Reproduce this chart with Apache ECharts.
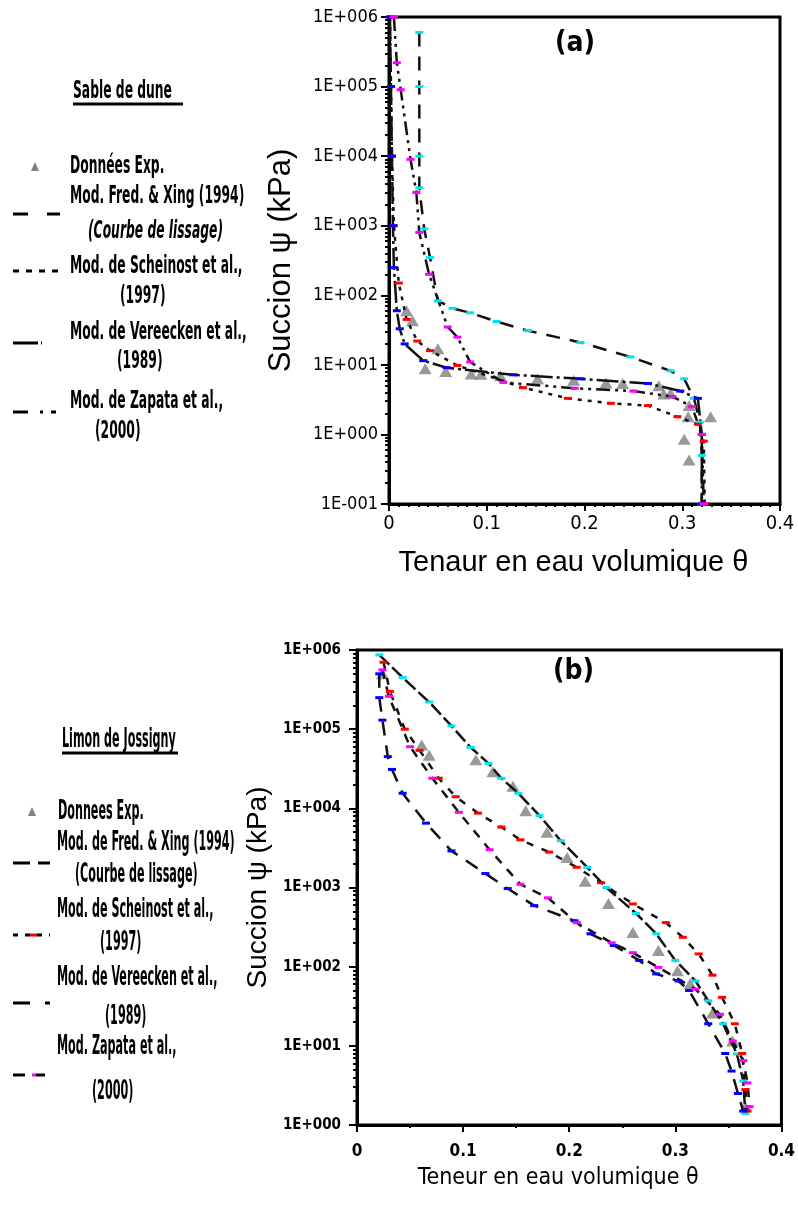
<!DOCTYPE html>
<html>
<head>
<meta charset="utf-8">
<script src="https://cdn.jsdelivr.net/npm/echarts@6/dist/echarts.min.js"></script>
<style>
html, body { margin: 0; padding: 0; background: #fff; }
#chart { width: 798px; height: 1207px; }
</style>
</head>
<body>
<div id="chart"></div>
<script>
// (a) Sable de dune
const expThetaA = [0.018, 0.024, 0.050, 0.037, 0.058, 0.084, 0.094, 0.114, 0.152, 0.189, 0.222, 0.239, 0.276, 0.281, 0.288, 0.307, 0.306, 0.329, 0.302, 0.307]
const expPsiA = [60, 43, 17, 8.8, 8, 7.4, 7.3, 7, 6.3, 6, 5.5, 5.4, 5, 3.8, 3.9, 2.6, 1.8, 1.8, 0.85, 0.43]
const fxThetaA = [0.031, 0.031, 0.031, 0.031, 0.036, 0.042, 0.05, 0.065, 0.083, 0.11, 0.142, 0.196, 0.247, 0.288, 0.302, 0.312, 0.318, 0.32, 0.32]
const fxPsiA = [6e5, 1e5, 1e4, 3500, 900, 350, 83, 65, 56, 42, 31, 21, 13, 8.2, 6.3, 3.3, 1.5, 0.5, 0.1]
const schThetaA = [0.001, 0.002, 0.003, 0.005, 0.01, 0.018, 0.029, 0.042, 0.07, 0.137, 0.183, 0.227, 0.265, 0.295, 0.316, 0.322, 0.323]
const schPsiA = [1e6, 1e5, 1e4, 1e3, 150, 45, 22, 16, 9.8, 4.7, 3.3, 2.8, 2.6, 1.8, 1.4, 0.8, 0.1]
const verThetaA = [0.001, 0.002, 0.003, 0.004, 0.005, 0.008, 0.011, 0.016, 0.035, 0.059, 0.127, 0.196, 0.265, 0.298, 0.316, 0.32, 0.32]
const verPsiA = [1e6, 1e5, 1e4, 1e3, 250, 60, 33, 20, 11.5, 9.1, 7.2, 6.3, 5.4, 4.2, 3.3, 1, 0.1]
const zapThetaA = [0.005, 0.008, 0.012, 0.022, 0.028, 0.031, 0.041, 0.06, 0.07, 0.083, 0.117, 0.19, 0.25, 0.29, 0.31, 0.32, 0.322]
const zapPsiA = [1e6, 2.2e5, 9e4, 9e3, 3e3, 800, 200, 35, 25, 11, 5.6, 4.6, 4.2, 3.5, 2.5, 1, 0.1]

// (b) Limon de Jossigny
const expThetaB = [0.024, 0.061, 0.068, 0.112, 0.128, 0.147, 0.159, 0.179, 0.198, 0.215, 0.237, 0.260, 0.284, 0.302, 0.314, 0.335, 0.354, 0.366]
const expPsiB = [5e5, 6.3e4, 4.7e4, 4.1e4, 2.9e4, 1.9e4, 9.3e3, 5e3, 2.4e3, 1.2e3, 630, 270, 160, 89, 61, 26, 11.5, 1.7]
const fxThetaB = [0.021, 0.043, 0.068, 0.089, 0.107, 0.124, 0.136, 0.152, 0.172, 0.192, 0.217, 0.235, 0.263, 0.282, 0.300, 0.319, 0.331, 0.345, 0.358, 0.364, 0.366]
const fxPsiB = [8.7e5, 4.5e5, 2.2e5, 1.1e5, 5.9e4, 3.7e4, 2.4e4, 1.55e4, 8.1e3, 3.9e3, 1.8e3, 1e3, 470, 260, 120, 66, 37, 19, 7.9, 3.6, 1.4]
const schThetaB = [0.025, 0.031, 0.045, 0.059, 0.077, 0.093, 0.114, 0.136, 0.154, 0.181, 0.207, 0.23, 0.26, 0.291, 0.307, 0.322, 0.335, 0.344, 0.356, 0.363, 0.366, 0.368]
const schPsiB = [7e5, 3e5, 1e5, 5.4e4, 2.4e4, 1.4e4, 8.7e3, 5.8e3, 4e3, 2.8e3, 1.8e3, 1.15e3, 620, 360, 235, 145, 78, 41, 19, 8, 2.8, 1.5]
const verThetaB = [0.021, 0.021, 0.024, 0.029, 0.033, 0.043, 0.065, 0.089, 0.121, 0.142, 0.167, 0.205, 0.22, 0.242, 0.266, 0.282, 0.303, 0.313, 0.331, 0.347, 0.353, 0.359, 0.364]
const verPsiB = [5e5, 2.5e5, 1.3e5, 4.5e4, 3.1e4, 1.55e4, 6.5e3, 2.9e3, 1.5e3, 970, 590, 380, 260, 185, 120, 81, 66, 50, 19, 8, 4.8, 2.5, 1.5]
const zapThetaB = [0.024, 0.03, 0.05, 0.071, 0.096, 0.125, 0.154, 0.18, 0.207, 0.24, 0.26, 0.284, 0.319, 0.342, 0.354, 0.364, 0.368, 0.37]
const zapPsiB = [5.6e5, 2.6e5, 6e4, 2.4e4, 8.9e3, 3e3, 1.1e3, 740, 360, 200, 150, 98, 52, 25, 11.5, 6.5, 3.4, 1.7]

const NARROW = '"DejaVu Sans Condensed", "Liberation Sans Narrow", sans-serif'
const REGULAR = '"Liberation Sans", Arial, sans-serif'

function pairs(xs, ys) {
  return xs.map((x, i) => [x, ys[i]])
}

function sciLabel(v) {
  const e = Math.round(Math.log10(v))
  return '1E' + (e < 0 ? '-' : '+') + String(Math.abs(e)).padStart(3, '0')
}

function curve(idx, xs, ys, dash, mark) {
  return {
    type: 'line',
    xAxisIndex: idx,
    yAxisIndex: idx,
    data: pairs(xs, ys),
    symbol: 'rect',
    symbolSize: [8, 3],
    showAllSymbol: true,
    itemStyle: { color: mark },
    lineStyle: { color: '#111', width: 2.5, type: dash },
    z: 3
  }
}

function triangles(idx, xs, ys) {
  return {
    type: 'scatter',
    xAxisIndex: idx,
    yAxisIndex: idx,
    data: pairs(xs, ys),
    symbol: 'triangle',
    symbolSize: [13, 11],
    itemStyle: { color: '#808080' },
    z: 2
  }
}

function xAxisCfg(idx, minor, label, name) {
  return {
    gridIndex: idx,
    type: 'value',
    min: 0,
    max: 0.4,
    interval: 0.1,
    axisLine: { lineStyle: { color: '#000', width: 3 } },
    axisTick: { length: 7, lineStyle: { color: '#000', width: 2 } },
    minorTick: { show: true, splitNumber: minor, length: 3, lineStyle: { color: '#000', width: 2 } },
    splitLine: { show: false },
    axisLabel: label,
    name: name.text,
    nameLocation: 'middle',
    nameGap: name.gap,
    nameTextStyle: name.style
  }
}

function yAxisCfg(idx, min, split, label, name) {
  return {
    gridIndex: idx,
    type: 'log',
    logBase: 10,
    min: min,
    max: 1e6,
    splitNumber: split,
    axisLine: { lineStyle: { color: '#000', width: 3 } },
    axisTick: { length: 8, lineStyle: { color: '#000', width: 2 } },
    minorTick: { show: true, splitNumber: 9, length: 4, lineStyle: { color: '#000', width: 2 } },
    splitLine: { show: false },
    axisLabel: Object.assign({ formatter: sciLabel }, label),
    name: name.text,
    nameLocation: 'middle',
    nameGap: name.gap,
    nameTextStyle: name.style
  }
}

// legend text is squeezed horizontally to get the tall condensed look of the scan
function legendText(x, y, text, size, squeeze, extra) {
  return {
    type: 'text',
    x: x,
    y: y,
    scaleX: squeeze,
    style: Object.assign({
      text: text,
      fontFamily: NARROW,
      fontSize: size,
      fontWeight: 'bold',
      fill: '#000',
      verticalAlign: 'middle'
    }, extra || {})
  }
}
const textA = (x, y, t, extra) => legendText(x, y, t, 24, 0.57, extra)
const textB = (x, y, t, extra) => legendText(x, y, t, 27, 0.46, extra)

function legendLine(x1, x2, y, dash, color) {
  return {
    type: 'line',
    shape: { x1: x1, y1: y, x2: x2, y2: y },
    style: { stroke: color || '#000', lineWidth: 3, lineDash: dash }
  }
}

function legendTriangle(cx, cy) {
  return {
    type: 'polygon',
    shape: { points: [[cx - 4, cy + 4], [cx + 4, cy + 4], [cx, cy - 5]] },
    style: { fill: '#808080' }
  }
}

const chart = echarts.init(document.getElementById('chart'))

chart.setOption({
  animation: false,
  backgroundColor: '#fff',
  grid: [
    { left: 389, top: 17, width: 391, height: 487, show: true, borderColor: '#000', borderWidth: 3 },
    { left: 357, top: 650, width: 430, height: 475, show: true, borderColor: '#000', borderWidth: 3 }
  ],
  xAxis: [
    xAxisCfg(0, 10,
      { color: '#000', fontFamily: NARROW, fontSize: 20, margin: 10 },
      { text: 'Tenaur en eau volumique θ', gap: 44, style: { color: '#000', fontFamily: REGULAR, fontSize: 29, padding: [0, 22, 0, 0] } }),
    xAxisCfg(1, 2,
      { color: '#000', fontFamily: NARROW, fontSize: 17, fontWeight: 'bold', margin: 18 },
      { text: 'Teneur en eau volumique θ', gap: 42, style: { color: '#000', fontFamily: NARROW, fontSize: 23, padding: [0, 22, 0, 0] } })
  ],
  yAxis: [
    yAxisCfg(0, 0.1, 7,
      { color: '#000', fontFamily: NARROW, fontSize: 18, margin: 11 },
      { text: 'Succion ψ (kPa)', gap: 92, style: { color: '#000', fontFamily: REGULAR, fontSize: 31 } }),
    yAxisCfg(1, 1, 6,
      { color: '#000', fontFamily: NARROW, fontSize: 15, fontWeight: 'bold', margin: 16 },
      { text: 'Succion ψ (kPa)', gap: 80, style: { color: '#000', fontFamily: REGULAR, fontSize: 28 } })
  ],
  series: [
    triangles(0, expThetaA, expPsiA),
    curve(0, fxThetaA, fxPsiA, [14, 10], '#00e5ee'),
    curve(0, schThetaA, schPsiA, [4, 6], '#ff0000'),
    curve(0, verThetaA, verPsiA, [22, 4, 3, 4], '#0000ff'),
    curve(0, zapThetaA, zapPsiA, [14, 5, 3, 5, 3, 5], '#ff00ff'),
    triangles(1, expThetaB, expPsiB),
    curve(1, fxThetaB, fxPsiB, [14, 4], '#00e5ee'),
    curve(1, schThetaB, schPsiB, [7, 9], '#ff0000'),
    curve(1, verThetaB, verPsiB, [14, 10], '#0000ff'),
    curve(1, zapThetaB, zapPsiB, [9, 8], '#ff00ff')
  ],
  graphic: [
    { type: 'text', x: 555, y: 30, style: { text: '(a)', fontFamily: NARROW, fontSize: 28, fontWeight: 'bold', fill: '#000' } },
    { type: 'text', x: 553, y: 658, style: { text: '(b)', fontFamily: NARROW, fontSize: 28, fontWeight: 'bold', fill: '#000' } },

    // legend (a)
    textA(73, 92, 'Sable de dune'),
    legendLine(73, 183, 104, null),
    legendTriangle(35, 167),
    textA(70, 167, 'Données Exp.'),
    textA(70, 197, 'Mod. Fred. & Xing (1994)'),
    legendLine(13, 60, 214, [15, 19]),
    textA(88, 232, '(Courbe de lissage)', { fontStyle: 'italic' }),
    textA(70, 267, 'Mod. de Scheinost et al.,'),
    legendLine(13, 60, 271, [6, 7]),
    textA(120, 297, '(1997)'),
    textA(70, 333, 'Mod. de Vereecken et al.,'),
    legendLine(13, 42, 343, [25, 3, 2, 100]),
    textA(117, 362, '(1989)'),
    textA(70, 402, 'Mod. de Zapata et al.,'),
    legendLine(13, 60, 412, [15, 12, 3, 8, 5, 100]),
    textA(95, 432, '(2000)'),

    // legend (b)
    textB(62, 740, 'Limon de Jossigny'),
    legendLine(62, 178, 753, null),
    legendTriangle(32, 812),
    textB(58, 812, 'Donnees Exp.'),
    textB(57, 843, 'Mod. de Fred. & Xing (1994)'),
    legendLine(13, 50, 863, [17, 8]),
    textB(75, 875, '(Courbe de lissage)'),
    textB(57, 910, 'Mod. de Scheinost et al.,'),
    legendLine(13, 50, 935, [5, 7]),
    legendLine(30, 37, 935, null, '#ff0000'),
    textB(100, 943, '(1997)'),
    textB(57, 978, 'Mod. de Vereecken et al.,'),
    legendLine(13, 50, 1003, [17, 15, 5, 10]),
    textB(105, 1017, '(1989)'),
    textB(57, 1047, 'Mod. Zapata et al.,'),
    legendLine(13, 45, 1075, [12, 20]),
    legendLine(32, 36, 1075, null, '#ff00ff'),
    legendLine(36, 45, 1075, null),
    textB(92, 1092, '(2000)')
  ]
})
</script>
</body>
</html>
